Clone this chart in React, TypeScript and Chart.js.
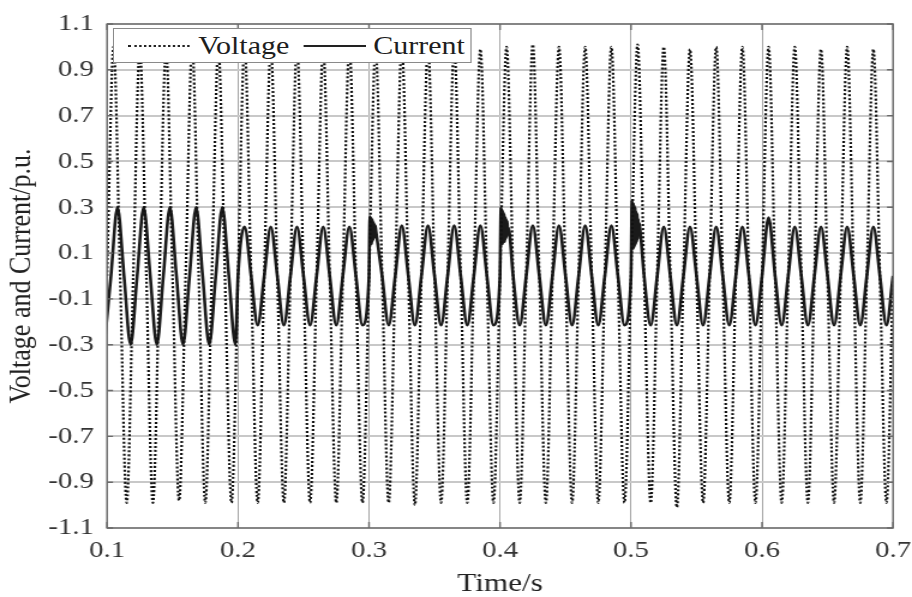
import React, { useEffect, useRef } from "react";
import { Chart, registerables } from "chart.js";

Chart.register(...registerables);

// ---------- data ----------
const xTicks = [0.1, 0.2, 0.3, 0.4, 0.5, 0.6, 0.7];
const yTicks = [-1.1, -0.9, -0.7, -0.5, -0.3, -0.1, 0.1, 0.3, 0.5, 0.7, 0.9, 1.1];

const firstCycleStart = 0.1; // s
const cyclePeriod = 0.02; // s (50 Hz)

// per-cycle extremes of the voltage (30 cycles, 0.1 s .. 0.7 s)
const voltagePeaks = [
  1.0, 0.99, 0.99, 1.0, 0.99, 1.0, 0.99, 1.0, 0.99, 1.0,
  0.99, 1.0, 1.0, 1.0, 0.99, 1.0, 1.01, 1.0, 1.0, 1.0,
  1.01, 1.0, 0.99, 1.0, 1.0, 1.0, 1.0, 0.99, 1.0, 0.99,
];
const voltageTroughs = [
  -0.99, -0.99, -0.98, -0.99, -0.99, -0.99, -0.99, -0.99, -0.99, -0.99,
  -0.99, -1.0, -0.99, -0.99, -0.99, -0.99, -0.99, -0.99, -0.99, -0.99,
  -0.99, -1.01, -0.99, -0.99, -0.99, -0.99, -0.99, -0.99, -0.99, -0.99,
];

// per-cycle extremes of the current
const currentPeaks = [
  0.3, 0.3, 0.3, 0.3, 0.3, 0.215, 0.215, 0.215, 0.215, 0.215,
  0.215, 0.22, 0.22, 0.22, 0.22, 0.215, 0.22, 0.22, 0.22, 0.22,
  0.215, 0.215, 0.215, 0.215, 0.215, 0.255, 0.215, 0.215, 0.215, 0.215,
];
const currentTroughs = [
  -0.3, -0.3, -0.3, -0.3, -0.3, -0.215, -0.215, -0.215, -0.215, -0.215,
  -0.215, -0.215, -0.215, -0.215, -0.215, -0.215, -0.215, -0.215, -0.215, -0.215,
  -0.215, -0.215, -0.215, -0.215, -0.215, -0.215, -0.215, -0.215, -0.215, -0.215,
];
// current lag behind the voltage, per cycle (s)
const currentDelay = [
  0.003, 0.003, 0.003, 0.003, 0.003, 0, 0, 0, 0, 0,
  0, 0, 0, 0, 0, 0, 0, 0, 0, 0,
  0, 0, 0, 0, 0, 0, 0, 0, 0, 0,
];
const currentLeadTrough = -0.3; // trough just before t = 0.1 s

// switching transients on the current
const transient03Times = [
  0.3003, 0.3007, 0.3011, 0.3015, 0.3019, 0.3023, 0.3027, 0.3031,
  0.3035, 0.3039, 0.3043, 0.3047, 0.3052,
];
const transient03Values = [0.15, 0.26, 0.14, 0.25, 0.14, 0.25, 0.15, 0.24, 0.16, 0.23, 0.17, 0.22, 0.2];
const transient04Times = [
  0.4003, 0.4007, 0.4011, 0.4015, 0.4019, 0.4023, 0.4027, 0.4031, 0.4035,
  0.4039, 0.4043, 0.4047, 0.4051, 0.4055, 0.4059, 0.4064,
];
const transient04Values = [
  0.16, 0.3, 0.14, 0.29, 0.14, 0.28, 0.15, 0.27, 0.15, 0.26, 0.16, 0.25, 0.17, 0.24, 0.19, 0.21,
];
const transient05Times = [
  0.5003, 0.5007, 0.5011, 0.5015, 0.5019, 0.5023, 0.5027, 0.5031, 0.5035,
  0.5039, 0.5043, 0.5047, 0.5051, 0.5055, 0.5059, 0.5063, 0.5068,
];
const transient05Values = [
  0.16, 0.33, 0.12, 0.32, 0.12, 0.31, 0.13, 0.3, 0.14, 0.28, 0.15, 0.27, 0.16, 0.25, 0.18, 0.23, 0.21,
];

// ---------- tables for the library ----------
type P = { x: number; y: number };

function buildVoltage(): P[] {
  const pts: P[] = [];
  voltagePeaks.forEach((pk, k) => {
    const t0 = firstCycleStart + k * cyclePeriod;
    pts.push({ x: t0, y: 0 });
    pts.push({ x: t0 + cyclePeriod / 4, y: pk });
    pts.push({ x: t0 + cyclePeriod / 2, y: 0 });
    pts.push({ x: t0 + (3 * cyclePeriod) / 4, y: voltageTroughs[k] });
  });
  pts.push({ x: firstCycleStart + voltagePeaks.length * cyclePeriod, y: 0 });
  return pts;
}

function buildCurrent(): P[] {
  const transients: Record<number, { t: number[]; v: number[] }> = {
    10: { t: transient03Times, v: transient03Values },
    15: { t: transient04Times, v: transient04Values },
    20: { t: transient05Times, v: transient05Values },
  };
  const pts: P[] = [];
  pts.push({ x: firstCycleStart + currentDelay[0] - cyclePeriod / 4, y: currentLeadTrough });
  currentPeaks.forEach((pk, k) => {
    const t0 = firstCycleStart + k * cyclePeriod + currentDelay[k];
    pts.push({ x: t0, y: 0 });
    const tr = transients[k];
    if (tr) {
      tr.t.forEach((t, i) => pts.push({ x: t, y: tr.v[i] }));
    } else {
      pts.push({ x: t0 + cyclePeriod / 4, y: pk });
    }
    pts.push({ x: t0 + cyclePeriod / 2, y: 0 });
    pts.push({ x: t0 + (3 * cyclePeriod) / 4, y: currentTroughs[k] });
  });
  pts.push({ x: firstCycleStart + currentPeaks.length * cyclePeriod, y: 0 });
  return pts;
}

// ---------- layout ----------
const SX = 1.2; // the reference figure is horizontally stretched
const W = 912 / SX;
const H = 597;
const AREA_LEFT = 107 / SX;
const AREA_RIGHT = 893 / SX;
const AREA_TOP = 24;
const AREA_BOTTOM = 528;
const FONT = '"Liberation Serif", "Times New Roman", serif';

const boxPlugin = {
  id: "boxPlugin",
  afterDraw(chart: any) {
    const { ctx, chartArea } = chart;
    const { left, right, top, bottom } = chartArea;
    const xs = chart.scales.x;
    const ys = chart.scales.y;
    ctx.save();
    ctx.strokeStyle = "#6a6a6a";
    ctx.lineWidth = 1.4;
    ctx.strokeRect(left, top, right - left, bottom - top);
    ctx.beginPath();
    xTicks.forEach((v) => {
      const px = xs.getPixelForValue(v);
      ctx.moveTo(px, bottom);
      ctx.lineTo(px, bottom - 6);
      ctx.moveTo(px, top);
      ctx.lineTo(px, top + 6);
    });
    yTicks.forEach((v) => {
      const py = ys.getPixelForValue(v);
      ctx.moveTo(left, py);
      ctx.lineTo(left + 5, py);
      ctx.moveTo(right, py);
      ctx.lineTo(right - 5, py);
    });
    ctx.stroke();
    ctx.restore();
  },
};

export default function App() {
  const ref = useRef<HTMLCanvasElement>(null);

  useEffect(() => {
    if (!ref.current) return;
    Chart.defaults.font.family = FONT;
    const chart = new Chart(ref.current, {
      type: "line",
      data: {
        datasets: [
          {
            label: "Voltage",
            data: buildVoltage(),
            borderColor: "#111",
            borderWidth: 2.2,
            borderDash: [2, 2],
            pointRadius: 0,
            fill: false,
            cubicInterpolationMode: "monotone",
          },
          {
            label: "Current",
            data: buildCurrent(),
            borderColor: "#1a1a1a",
            borderWidth: 2.6,
            pointRadius: 0,
            fill: false,
            cubicInterpolationMode: "monotone",
          },
        ],
      },
      options: {
        animation: false,
        responsive: false,
        maintainAspectRatio: false,
        events: [],
        layout: { padding: { top: AREA_TOP, right: W - AREA_RIGHT, left: 0, bottom: 0 } },
        plugins: { legend: { display: false }, tooltip: { enabled: false } },
        scales: {
          x: {
            type: "linear",
            min: 0.1,
            max: 0.7,
            afterBuildTicks: (s: any) => {
              s.ticks = xTicks.map((v) => ({ value: v }));
            },
            afterFit: (s: any) => {
              s.height = H - AREA_BOTTOM;
              s.paddingLeft = 0;
              s.paddingRight = 0;
            },
            border: { display: false },
            grid: { color: "#a6a6a6", lineWidth: 1, drawTicks: false },
            ticks: {
              autoSkip: false,
              maxRotation: 0,
              padding: 8,
              color: "#333",
              font: { size: 24, family: FONT },
              callback: (v: any) => Number(v).toFixed(1),
            },
            title: {
              display: true,
              text: "Time/s",
              color: "#222",
              padding: 0,
              font: { size: 26, family: FONT, lineHeight: 1 },
            },
          },
          y: {
            type: "linear",
            min: -1.1,
            max: 1.1,
            afterBuildTicks: (s: any) => {
              s.ticks = yTicks.map((v) => ({ value: v }));
            },
            afterFit: (s: any) => {
              s.width = AREA_LEFT;
              s.paddingTop = 0;
              s.paddingBottom = 0;
            },
            border: { display: false },
            grid: { color: "#c8c8c8", lineWidth: 2, drawTicks: false },
            ticks: {
              autoSkip: false,
              padding: 11,
              color: "#333",
              font: { size: 24, family: FONT },
              callback: (v: any) => Number(v).toFixed(1),
            },
            title: {
              display: true,
              text: "Voltage and Current/p.u.",
              color: "#222",
              padding: { top: 3, bottom: 0 },
              font: { size: 26, family: FONT, lineHeight: 1.2 },
            },
          },
        },
      },
      plugins: [boxPlugin],
    } as any);
    return () => chart.destroy();
  }, []);

  const legendLeft = 113 / SX;
  const legendTextStyle: React.CSSProperties = {
    position: "absolute",
    top: 0,
    height: 33,
    lineHeight: "33px",
    fontFamily: FONT,
    fontSize: 25,
    color: "#1e1e1e",
    whiteSpace: "nowrap",
  };

  return (
    <div
      style={{
        position: "fixed",
        left: 0,
        top: 0,
        width: 912,
        height: H,
        background: "#fff",
        overflow: "hidden",
      }}
    >
      <div
        style={{
          position: "absolute",
          left: 0,
          top: 0,
          width: W,
          height: H,
          transform: `scaleX(${SX})`,
          transformOrigin: "0 0",
        }}
      >
        <canvas ref={ref} width={W} height={H} style={{ display: "block" }} />
        <div
          style={{
            position: "absolute",
            left: legendLeft,
            top: 28,
            width: 472 / SX - legendLeft,
            height: 35,
            boxSizing: "border-box",
            border: "1.5px solid #8a8a8a",
            background: "#fff",
          }}
        >
          <div
            style={{
              position: "absolute",
              left: 127 / SX - legendLeft,
              top: 16,
              width: (188 - 127) / SX,
              height: 0,
              borderTop: "2px dotted #222",
            }}
          />
          <div style={{ ...legendTextStyle, left: 197 / SX - legendLeft }}>Voltage</div>
          <div
            style={{
              position: "absolute",
              left: 302 / SX - legendLeft,
              top: 16,
              width: (365 - 302) / SX,
              height: 2,
              background: "#222",
            }}
          />
          <div style={{ ...legendTextStyle, left: 372 / SX - legendLeft }}>Current</div>
        </div>
      </div>
    </div>
  );
}
